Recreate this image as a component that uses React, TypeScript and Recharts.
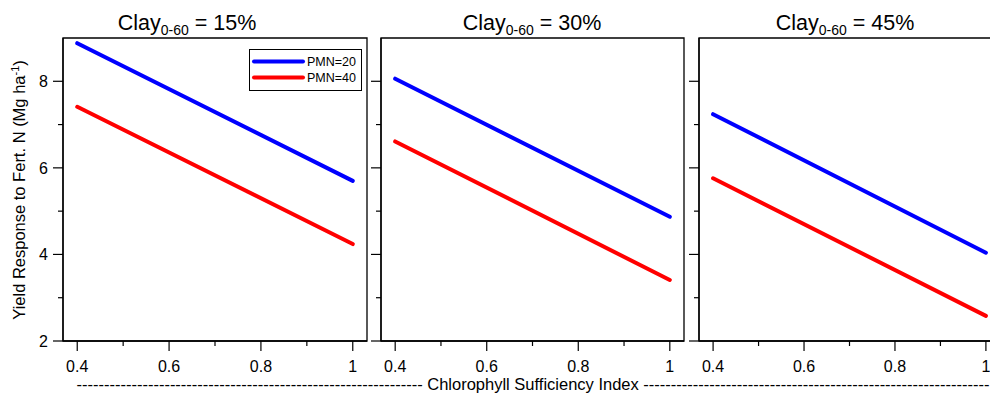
import React from "react";
import {
  LineChart,
  Line,
  XAxis,
  YAxis,
  ReferenceArea,
  Legend,
} from "recharts";

// chlorophyll sufficiency index (x) at both ends of each fitted line
const CSI = [0.4, 1.0];
const CLAY = ["15%", "30%", "45%"];

// yield response (Mg/ha)
const PMN20_CLAY15 = [8.88, 5.7];
const PMN40_CLAY15 = [7.41, 4.24];
const PMN20_CLAY30 = [8.06, 4.87];
const PMN40_CLAY30 = [6.61, 3.41];
const PMN20_CLAY45 = [7.24, 4.04];
const PMN40_CLAY45 = [5.76, 2.58];

const X_TICKS = [0.4, 0.5, 0.6, 0.7, 0.8, 0.9, 1.0];
const Y_TICKS = [2, 3, 4, 5, 6, 7, 8];
const X_DOMAIN: [number, number] = [0.369, 1.031];
const Y_DOMAIN: [number, number] = [2, 9];

const FONT = "'Liberation Sans', Arial, sans-serif";
const BLUE = "#0000ff";
const RED = "#ff0000";

const panels = [
  { plotLeft: 63, plotWidth: 304, titleX: 187, a: PMN20_CLAY15, b: PMN40_CLAY15, labels: true, legend: true },
  { plotLeft: 381, plotWidth: 303, titleX: 532, a: PMN20_CLAY30, b: PMN40_CLAY30, labels: false, legend: false },
  { plotLeft: 699, plotWidth: 301, titleX: 845, a: PMN20_CLAY45, b: PMN40_CLAY45, labels: false, legend: false },
];

function XTick(props: any) {
  const { x, y, payload } = props;
  const v = payload.value as number;
  const major = Math.round(v * 10) % 2 === 0;
  return (
    <g>
      <line x1={x} x2={x} y1={y} y2={y + (major ? 10 : 5)} stroke="#000" strokeWidth={1.2} />
      {major && (
        <text x={x} y={y + 31} textAnchor="middle" fontSize={16} fontFamily={FONT} fill="#000">
          {v === 1 ? "1" : v.toFixed(1)}
        </text>
      )}
    </g>
  );
}

function makeYTick(showLabel: boolean) {
  return function YTick(props: any) {
    const { x, y, payload } = props;
    const v = payload.value as number;
    const major = v % 2 === 0;
    return (
      <g>
        <line x1={x - (major ? 10 : 5)} x2={x} y1={y} y2={y} stroke="#000" strokeWidth={1.2} />
        {showLabel && major && (
          <text x={x - 15} y={y + 6} textAnchor="end" fontSize={16} fontFamily={FONT} fill="#000">
            {v}
          </text>
        )}
      </g>
    );
  };
}

function LegendBox() {
  return (
    <svg width={113} height={42} style={{ display: "block" }}>
      <rect x={0.5} y={0.5} width={112} height={41} fill="#fff" stroke="#000" strokeWidth={1} />
      <line x1={5} x2={54} y1={12.5} y2={12.5} stroke={BLUE} strokeWidth={4} strokeLinecap="round" />
      <line x1={5} x2={54} y1={28.5} y2={28.5} stroke={RED} strokeWidth={4} strokeLinecap="round" />
      <text x={58} y={17} fontSize={12.5} fontFamily={FONT} fill="#000">PMN=20</text>
      <text x={58} y={33} fontSize={12.5} fontFamily={FONT} fill="#000">PMN=40</text>
    </svg>
  );
}

function Panel({ p }: { p: (typeof panels)[number] }) {
  const data = CSI.map((c, i) => ({ csi: c, pmn20: p.a[i], pmn40: p.b[i] }));
  const left = p.plotLeft - 63;
  return (
    <div style={{ position: "absolute", left, top: 0 }}>
      <LineChart
        width={63 + p.plotWidth + 5}
        height={399}
        data={data}
        margin={{ top: 38, right: 5, left: 62, bottom: 57 }}
      >
        <XAxis
          dataKey="csi"
          type="number"
          domain={X_DOMAIN}
          ticks={X_TICKS}
          allowDataOverflow
          height={1}
          tickSize={0}
          tickMargin={0}
          tickLine={false}
          axisLine={{ stroke: "#000", strokeWidth: 1.3 }}
          tick={<XTick />}
          interval={0}
        />
        <YAxis
          type="number"
          domain={Y_DOMAIN}
          ticks={Y_TICKS}
          allowDataOverflow
          width={1}
          tickSize={0}
          tickMargin={0}
          tickLine={false}
          axisLine={{ stroke: "#000", strokeWidth: 1.3 }}
          tick={React.createElement(makeYTick(p.labels))}
          interval={0}
        />
        <ReferenceArea
          x1={X_DOMAIN[0]}
          x2={X_DOMAIN[1]}
          y1={Y_DOMAIN[0]}
          y2={Y_DOMAIN[1]}
          fill="none"
          fillOpacity={0}
          stroke="#000"
          strokeWidth={1.3}
        />
        {p.legend && (
          <Legend
            layout="vertical"
            align="center"
            verticalAlign="middle"
            content={() => <LegendBox />}
            wrapperStyle={{ position: "absolute", left: 249 - left, top: 49, width: 113, height: 42 }}
          />
        )}
        <Line
          type="linear"
          dataKey="pmn20"
          name="PMN=20"
          stroke={BLUE}
          strokeWidth={4}
          strokeLinecap="round"
          dot={false}
          isAnimationActive={false}
        />
        <Line
          type="linear"
          dataKey="pmn40"
          name="PMN=40"
          stroke={RED}
          strokeWidth={4}
          strokeLinecap="round"
          dot={false}
          isAnimationActive={false}
        />
      </LineChart>
    </div>
  );
}

const DASHES = "-".repeat(63);

export default function App() {
  return (
    <div
      style={{
        position: "absolute",
        left: 0,
        top: 0,
        width: 990,
        height: 399,
        overflow: "hidden",
        background: "#fff",
        fontFamily: FONT,
      }}
    >
      {panels.map((p, i) => (
        <Panel key={i} p={p} />
      ))}
      <svg width={990} height={399} style={{ position: "absolute", left: 0, top: 0, pointerEvents: "none" }}>
        {panels.map((p, i) => (
          <text key={i} x={p.titleX} y={29.5} textAnchor="middle" fontSize={21.5} fontFamily={FONT} fill="#000">
            Clay
            <tspan fontSize={14} dy={5}>0-60</tspan>
            <tspan dy={-5}>{" = " + CLAY[i]}</tspan>
          </text>
        ))}
        <text
          transform="translate(25,190) rotate(-90)"
          textAnchor="middle"
          fontSize={16.5}
          fontFamily={FONT}
          fill="#000"
        >
          Yield Response to Fert. N (Mg ha
          <tspan fontSize={11} dy={-6}>-1</tspan>
          <tspan dy={6}>)</tspan>
        </text>
        <text x={533} y={390} textAnchor="middle" fontSize={16.5} fontFamily={FONT} fill="#000">
          {DASHES + " Chlorophyll Sufficiency Index " + DASHES}
        </text>
      </svg>
    </div>
  );
}
